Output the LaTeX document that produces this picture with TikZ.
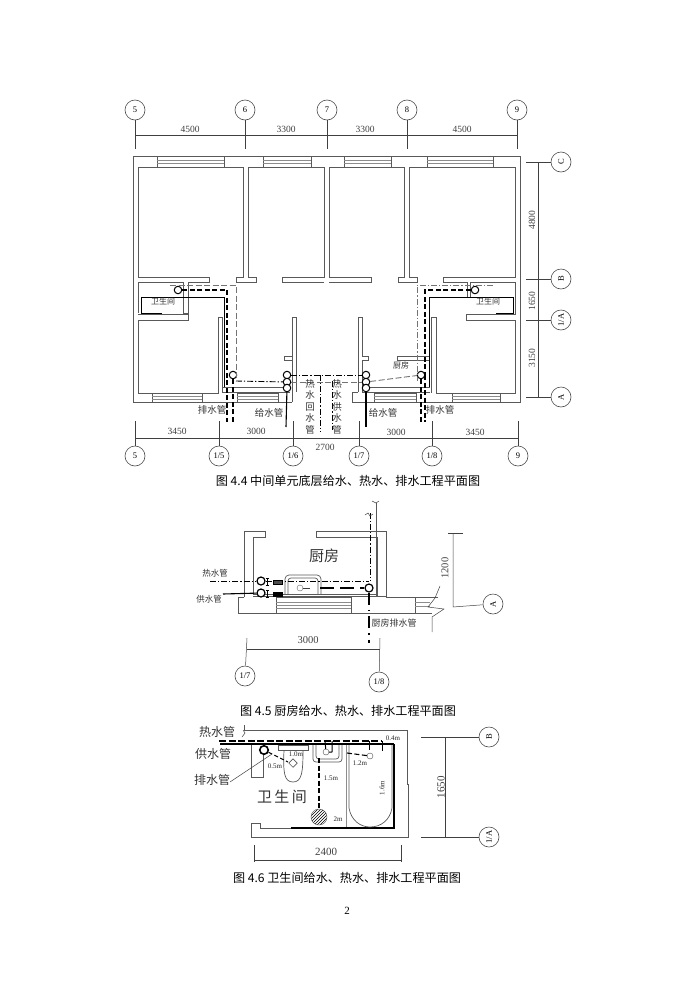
\documentclass[tikz,border=0pt]{standalone}
\usepackage{fontspec}
\usetikzlibrary{patterns}
\setmainfont{Liberation Serif}
\newfontfamily\cjk{Noto Sans CJK SC}
\tikzset{
  wall/.style={draw=black!65,line width=.7pt},
  glass/.style={draw=black!45,line width=.6pt},
  dim/.style={draw=black!75,line width=.5pt},
  axis/.style={circle,draw=black!70,line width=.6pt,minimum size=20pt,inner sep=0pt,
    font=\fontsize{8.5}{9}\selectfont},
  num/.style={inner sep=0pt,text=black!75,font=\fontsize{9.5}{10}\selectfont},
  mini/.style={inner sep=0pt,text=black!85,font=\fontsize{7}{8}\selectfont},
  cn/.style={inner sep=0pt,align=center,text=black!80,font=\cjk\fontsize{9.5}{11.5}\selectfont},
  cnsmall/.style={inner sep=0pt,text=black!80,font=\cjk\fontsize{8}{9}\selectfont},
  cnbig/.style={inner sep=0pt,text=black!80,font=\cjk\fontsize{12}{13}\selectfont},
  caption/.style={inner sep=0pt,font=\cjk\fontsize{12.1}{13}\selectfont},
  supplyp/.style={draw=black,line width=1.1pt},
  drainp/.style={draw=black,line width=1.1pt,dash pattern=on 5pt off 2.5pt},
  hotp/.style={draw=black,line width=.9pt,dash pattern=on 6pt off 2pt on 1.2pt off 2pt},
  greyp/.style={draw=black!55,line width=.9pt,dash pattern=on 6pt off 2.5pt},
  greyh/.style={draw=black!55,line width=.9pt,dash pattern=on 6pt off 2pt on 1.2pt off 2pt},
  pipeo/.style={circle,draw=black,fill=white,line width=1pt,minimum size=7.5pt,inner sep=0pt}
}
\begin{document}
\begin{tikzpicture}[x=1pt,y=-1pt]
  \useasboundingbox (0,0) rectangle (696,983);

  \draw [wall] (292,402) -- (133,402) -- (133,156) -- (520,156) -- (520,402) -- (352,402) -- (352,392);
  \draw [wall] (292,402) -- (292,392);

  \draw [wall] (138,277) -- (138,167) -- (243,167) -- (243,277) -- (236,277) -- (236,282) -- (256,282) -- (256,277) -- (248,277)
    -- (248,167) -- (324,167) -- (324,277) -- (282,277) -- (282,282) -- (324,282);
  \draw [wall] (209,277) -- (138,277);
  \draw [wall] (209,277) -- (209,282) -- (188,282) -- (188,313) -- (183,313);
  \draw [wall] (138,282) -- (183,282) -- (183,313);
  \draw [wall] (329,282) -- (371,282) -- (371,277) -- (329,277) -- (329,167) -- (404,167) -- (404,277) -- (398,277) -- (398,282)
    -- (417,282) -- (417,277) -- (409,277) -- (409,167) -- (515,167) -- (515,277) -- (443,277) -- (443,282) -- (467,282);
  \draw [wall] (470,282) -- (515,282) -- (515,314) -- (466,314) -- (466,320) -- (515,320) -- (515,393) -- (436,393) -- (436,317)
    -- (431,317) -- (431,393);
  \draw [wall] (467,282) -- (467,297) (470,282) -- (470,297);
  \draw [wall] (138,282) -- (138,313) (138,314) -- (188,314) -- (188,320) -- (138,320) -- (138,393) -- (218,393) -- (218,317)
    -- (222,317) -- (222,393);
  \draw [wall] (292,393) -- (292,317) -- (296,317) -- (296,392) (292,360) -- (284,360) -- (284,356) -- (292,356);
  \draw [wall] (362,392) -- (362,360) -- (368,360) -- (368,356) -- (362,356) -- (362,317) -- (358,317) -- (358,392);
  \draw [wall] (223,387) -- (290,387) (223,392) -- (290,392) (362,387) -- (430,387) (362,392) -- (430,392);
  \draw [wall] (397,356) -- (430,356) (397,360) -- (430,360) (397,356) -- (397,360);
  \draw [wall] (352,392) -- (358,392);

  \draw [wall] (157,156) rectangle (224,167);
  \draw [glass] (157,160) -- (224,160) (157,163) -- (224,163);
  \draw [wall] (263,156) rectangle (311,167);
  \draw [glass] (263,160) -- (311,160) (263,163) -- (311,163);
  \draw [wall] (344,156) rectangle (391,167);
  \draw [glass] (344,160) -- (391,160) (344,163) -- (391,163);
  \draw [wall] (427,156) rectangle (493,167);
  \draw [glass] (427,160) -- (493,160) (427,163) -- (493,163);
  \draw [wall] (152,393) rectangle (202,402);
  \draw [glass] (152,396) -- (202,396) (152,399) -- (202,399);
  \draw [wall] (237,393) rectangle (278,402);
  \draw [glass] (237,396) -- (278,396) (237,399) -- (278,399);
  \draw [wall] (374,393) rectangle (416,402);
  \draw [glass] (374,396) -- (416,396) (374,399) -- (416,399);
  \draw [wall] (452,393) rectangle (500,402);
  \draw [glass] (452,396) -- (500,396) (452,399) -- (500,399);

  \node [axis] (t5) at (135,110) {5};
  \node [axis] (t6) at (245,110) {6};
  \node [axis] (t7) at (327,110) {7};
  \node [axis] (t8) at (407,110) {8};
  \node [axis] (t9) at (517,110) {9};
  \draw [dim] (t5) -- (135,149);
  \draw [dim] (t6) -- (245,149);
  \draw [dim] (t7) -- (327,149);
  \draw [dim] (t8) -- (407,149);
  \draw [dim] (t9) -- (517,149);
  \draw [dim] (135,135) -- (517,135);
  \node [num] (w1) at (190,129) {4500};
  \node [num] (w2) at (286,129) {3300};
  \node [num] (w3) at (365,129) {3300};
  \node [num] (w4) at (462,129) {4500};

  \node [axis] (b5) at (135,456) {5};
  \node [axis] (b15) at (219,456) {1/5};
  \node [axis] (b16) at (293,456) {1/6};
  \node [axis] (b17) at (359,456) {1/7};
  \node [axis] (b18) at (432,456) {1/8};
  \node [axis] (b9) at (518,456) {9};
  \draw [dim] (b5) -- (135,421);
  \draw [dim] (b15) -- (219,421);
  \draw [dim] (b16) -- (293,421);
  \draw [dim] (b17) -- (359,421);
  \draw [dim] (b18) -- (432,421);
  \draw [dim] (b9) -- (518,421);
  \draw [dim] (135,438) -- (518,438);
  \node [num] (x1) at (177,431) {3450};
  \node [num] (x2) at (256,431) {3000};
  \node [num] (x3) at (325,447) {2700};
  \node [num] (x4) at (396,432) {3000};
  \node [num] (x5) at (475,432) {3450};

  \node [axis,rotate=90] (rc) at (561,162) {C};
  \node [axis,rotate=90] (rb) at (561,279) {B};
  \node [axis,rotate=90] (ra1) at (561,320) {1/A};
  \node [axis,rotate=90] (ra) at (561,397) {A};
  \draw [dim] (rc) -- (526,162);
  \draw [dim] (rb) -- (526,279);
  \draw [dim] (ra1) -- (526,320);
  \draw [dim] (ra) -- (526,397);
  \draw [dim] (538,162) -- (538,397);
  \node [num,rotate=90] (y1) at (532,220) {4800};
  \node [num,rotate=90] (y2) at (532,301) {1650};
  \node [num,rotate=90] (y3) at (532,358) {3150};

  \draw [supplyp,line width=1pt] (162,313) -- (141,313) -- (141,297) -- (224,297) -- (224,387);
  \draw [supplyp,line width=1pt] (496,313) -- (513,313) -- (513,297) -- (429,297) -- (429,387);

  \node [pipeo] (pa) at (178,290) {};
  \node [pipeo] (pb) at (233,375) {};
  \node [pipeo] (pc1) at (287,375) {};
  \node [pipeo] (pc2) at (287,382) {};
  \node [pipeo] (pc3) at (287,388) {};
  \node [pipeo] (pd1) at (366,375) {};
  \node [pipeo] (pd2) at (366,382) {};
  \node [pipeo] (pd3) at (366,388) {};
  \node [pipeo] (pe) at (421,375) {};
  \node [pipeo] (pf) at (475,290) {};

  \draw [drainp] (pa) -- (227,290) -- (227,422);
  \draw [drainp] (pb) -- (233,422);
  \draw [greyp] (170,285) -- (236,285) -- (236,380);
  \draw [hotp] (236,381) -- (pc2);
  \draw [supplyp] (pc3) -- (286,427);
  \draw [supplyp] (pd3) -- (366,427);
  \draw [hotp] (pc1) -- (pd1);
  \draw [greyp] (pc2) -- (pd2);
  \draw [greyp] (pd2) -- (pe);
  \draw [hotp] (320,375) -- (320,432);
  \draw [hotp] (332,381) -- (332,430);
  \draw [drainp] (pe) -- (421,422);
  \draw [drainp] (425,375) -- (425,422);
  \draw [drainp] (pf) -- (425,290) -- (425,375);
  \draw [greyh] (493,285) -- (417,285) -- (417,381);

  \node [cnsmall] (bath1) at (163,301) {卫生间};
  \node [cnsmall] (bath2) at (488,301) {卫生间};
  \node [cnsmall] (kit1) at (401,365) {厨房};
  \node [cn] (dr1) at (212,410) {排水管};
  \node [cn] (su1) at (269,413) {给水管};
  \node [cn] (su2) at (383,413) {给水管};
  \node [cn] (dr2) at (440,410) {排水管};
  \node [cn,anchor=north] (hr) at (310,379) {热\\水\\回\\水\\管};
  \node [cn,anchor=north] (hs) at (337,379) {热\\水\\供\\水\\管};
  \node [caption] (cap1) at (348,481) {图 4.4 中间单元底层给水、热水、排水工程平面图};

  \draw [wall] (377,596) -- (377,537) -- (316,537) -- (316,531) -- (386,531) -- (386,597) -- (438,597);
  \draw [wall] (244,597) -- (244,531) -- (265,531) -- (265,537) -- (253,537) -- (253,595);
  \draw [wall] (244,597) -- (238,597) -- (238,613) -- (432,613);
  \draw [wall] (253,594) -- (377,594) (253,596) -- (386,596);
  \draw [wall] (276,597) rectangle (351,613);
  \draw [glass] (276,602) -- (351,602) (276,605) -- (351,605) (276,608) -- (351,608);
  \draw [wall] (415,597) -- (415,613);
  \draw [glass] (415,602) -- (430,602) (415,606) -- (430,606);
  \draw [dim] (440,586) -- (435,598) -- (428,607) -- (444,609) -- (432,617) -- (432,632);
  \draw [wall,rounded corners=4pt] (285,594) -- (285,575) -- (321,575) -- (321,594);
  \draw [wall,rounded corners=3pt] (288,594) -- (288,578) -- (318,578) -- (318,594);
  \node [circle,draw=black!60,minimum size=6pt,inner sep=0pt] (sinkk) at (300,588) {};
  \draw [dim] (sinkk) -- (310,588);

  \node [pipeo,line width=1.2pt,minimum size=8pt] (kh) at (261,581) {};
  \node [pipeo,line width=1.2pt,minimum size=8pt] (ks) at (261,593) {};
  \node [pipeo,line width=1.2pt,minimum size=8pt] (kd) at (369,588) {};
  \coordinate (kht) at (210,581);
  \coordinate (kst) at (223,594);
  \coordinate (kbot) at (369,643);
  \draw [hotp] (kht) -- (kh) -- (369,581);
  \draw [supplyp] (kst) -- (ks);
  \draw [drainp,line width=1.2pt,dash pattern=on 14pt off 6pt] (320,588) -- (kd);
  \draw [hotp] (370,513) -- (370,581);
  \draw [drainp,dash pattern=on 12pt off 5pt on 1.5pt off 5pt] (kd) -- (kbot);
  \draw [wall] (376,503) -- (376,596);
  \draw [dim] (372,501) -- (376,503) -- (379,501);
  \draw [dim] (365,515) -- (368,513) -- (370,516) -- (373,514);
  \draw [black,line width=1pt] (267,578) -- (267,585) (265.5,578) -- (268.5,578) (265.5,585) -- (268.5,585);
  \draw [black,line width=1pt] (267,590) -- (267,597) (265.5,590) -- (268.5,590) (265.5,597) -- (268.5,597);
  \draw [draw=black,fill=black!70] (273,580) -- (282,580) -- (282,584) -- (273,584) -- cycle;
  \draw [draw=black,fill=black] (273,592) -- (282,592) -- (282,596) -- (273,596) -- cycle;

  \node [cnbig,font=\cjk\fontsize{15}{16}\selectfont] (kit) at (324,556) {厨房};
  \node [cnsmall,font=\cjk\fontsize{8.5}{10}\selectfont] (kh1) at (215,573) {热水管};
  \node [cnsmall,font=\cjk\fontsize{8.5}{10}\selectfont] (ks1) at (209,599) {供水管};
  \node [cnsmall,font=\cjk\fontsize{9}{10}\selectfont] (kd1) at (394,623) {厨房排水管};

  \node [axis] (k17) at (245,676) {1/7};
  \node [axis] (k18) at (379,682) {1/8};
  \node [axis,rotate=90] (ka) at (493,604) {A};
  \draw [dim] (k17) -- (247,638);
  \draw [dim] (k18) -- (380,638);
  \draw [dim] (247,649) -- (380,649);
  \node [num,font=\fontsize{10.5}{11}\selectfont] (k3000) at (308,640) {3000};
  \draw [dim] (448,533) -- (463,533);
  \draw [dim] (453,533) -- (453,607) -- (ka);
  \node [num,rotate=90,font=\fontsize{10.5}{11}\selectfont] (k1200) at (445,568) {1200};
  \node [caption] (cap2) at (348,711) {图 4.5 厨房给水、热水、排水工程平面图};

  \draw [wall] (244,725) -- (244,730) -- (407,730) -- (407,784) -- (408,784) -- (408,837) -- (251,837) -- (251,823) -- (260,823) -- (260,828) -- (291,828);
  \draw [wall] (251,744) -- (251,777) -- (263,777) -- (263,744);
  \draw [glass,line width=.9pt] (346,745) -- (346,828);
  \draw [black,line width=1.6pt] (291,828) -- (394,828) -- (394,744);
  \draw [supplyp] (220,744) -- (394,744);
  \draw [wall] (278,745) rectangle (308,750);
  \draw [wall] (284,750) .. controls (283,772) and (284,782) .. (293,782) .. controls (302,782) and (303,772) .. (303,750);
  \draw [wall,rotate around={45:(293,763)}] (290,760) rectangle (296,766);
  \draw [wall,rounded corners=3pt] (313,745) -- (313,762) -- (342,762) -- (342,745);
  \draw [wall,rounded corners=3pt] (316,745) -- (316,759) -- (339,759) -- (339,745);
  \draw [wall] (349,745) -- (349,808) .. controls (351,820) and (360,827) .. (370,827) .. controls (381,827) and (390,820) .. (392,808) -- (392,745);
  \draw [black!70,pattern=north east lines] (319,817) circle (8);

  \node [pipeo,line width=1.6pt,minimum size=8.5pt] (bt) at (264,750) {};
  \node [circle,draw=black!70,minimum size=6pt,inner sep=0pt] (bsink) at (326,752) {};
  \node [circle,draw=black!70,minimum size=6pt,inner sep=0pt] (btub) at (370,756) {};
  \coordinate (bdrn) at (319,809);
  \coordinate (bwc) at (288,762);
  \draw [drainp,dash pattern=on 7pt off 2.5pt] (219,741) -- (382,741);
  \draw [drainp,dash pattern=on 4pt off 2.5pt] (bt) -- (bwc);
  \draw [drainp,dash pattern=on 5pt off 2.5pt] (319,758) -- (bdrn);
  \draw [drainp,dash pattern=on 5pt off 2.5pt] (347,753) -- (btub);
  \draw [black,line width=1pt] (332,741) -- (332,752) (bsink) -- (332,752) (325,741) -- (bsink);
  \draw [black,line width=1pt] (369,741) -- (369,750) (382,741) -- (382,751);
  \draw [dim] (242,737) -- (245,733) -- (243,730);
  \draw [dim] (230,782) -- (272,754);

  \node [cnsmall,font=\cjk\fontsize{12}{13}\selectfont] (bh) at (217,732) {热水管};
  \node [cnsmall,font=\cjk\fontsize{12}{13}\selectfont] (bs) at (213,754) {供水管};
  \node [cnsmall,font=\cjk\fontsize{12}{13}\selectfont] (bd) at (212,780) {排水管};
  \node [cnbig,font=\cjk\fontsize{15}{16}\selectfont] (bath) at (282,797) {卫\,生\,间};
  \node [mini] (m1) at (393,738) {0.4m};
  \node [mini] (m2) at (296,754) {1.0m};
  \node [mini] (m3) at (275,766) {0.5m};
  \node [mini] (m4) at (360,763) {1.2m};
  \node [mini] (m5) at (331,778) {1.5m};
  \node [mini] (m6) at (338,819) {2m};
  \node [mini,rotate=90] (m7) at (382,788) {1.6m};

  \node [axis,rotate=90] (bb) at (489,737) {B};
  \node [axis,rotate=90] (ba) at (489,837) {1/A};
  \draw [dim] (421,737) -- (bb);
  \draw [dim] (421,837) -- (ba);
  \draw [dim] (445,737) -- (445,837);
  \node [num,rotate=90,font=\fontsize{11}{12}\selectfont] (b1650) at (441,787) {1650};
  \draw [dim] (254,845) -- (254,862);
  \draw [dim] (401,845) -- (401,862);
  \draw [dim] (254,860) -- (401,860);
  \node [num,font=\fontsize{11}{12}\selectfont] (b2400) at (326,852) {2400};
  \node [caption] (cap3) at (347,878) {图 4.6 卫生间给水、热水、排水工程平面图};
  \node [inner sep=0pt,font=\fontsize{11}{12}\selectfont] (pageno) at (347,911) {2};
\end{tikzpicture}
\end{document}
